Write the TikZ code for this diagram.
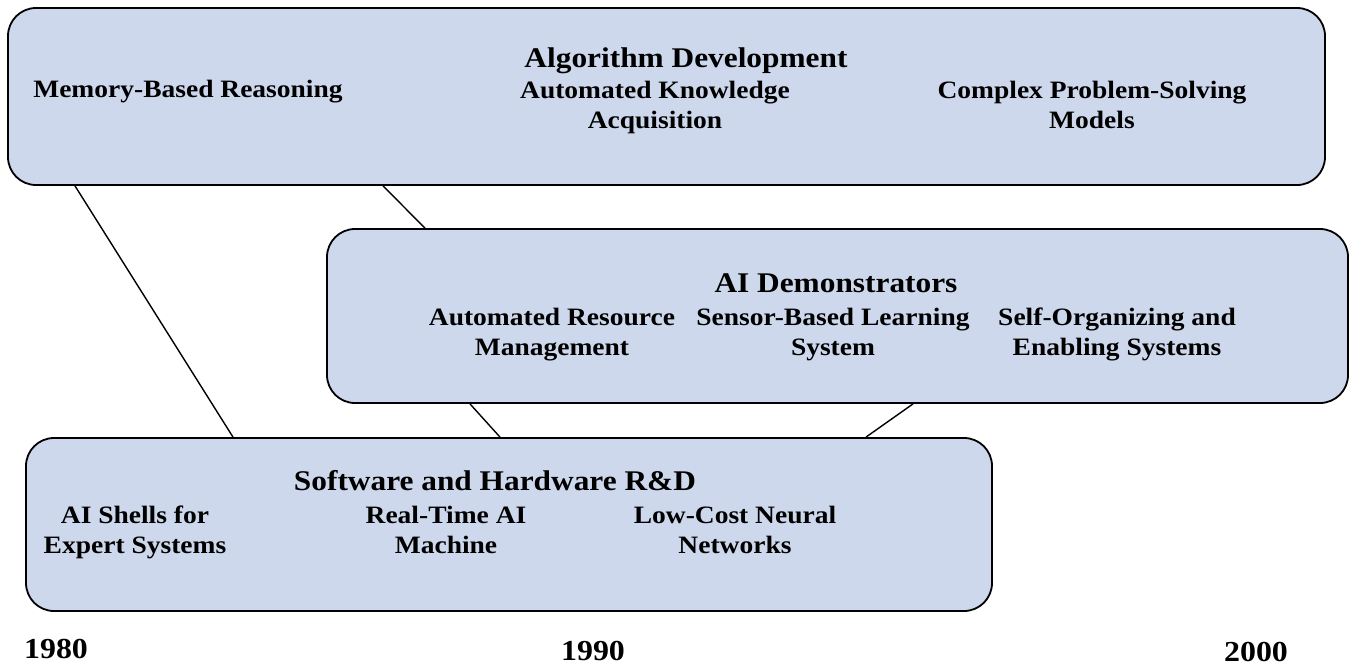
\documentclass[tikz,border=0pt]{standalone}
\usepackage{fontspec}
\setmainfont[FakeStretch=1.1]{Liberation Serif}
\usepackage{tikz}
\definecolor{panelblue}{RGB}{206,216,236}

\begin{document}
\begin{tikzpicture}[x=1pt, y=-1pt,
  panel/.style={draw=black, line width=1.8pt, fill=panelblue, rounded corners=28pt, inner sep=0pt},
  head/.style={font=\bfseries\fontsize{28.5}{30}\selectfont, anchor=base, inner sep=0pt},
  item/.style={font=\bfseries\fontsize{25}{30}\selectfont, align=center, anchor=base, inner sep=0pt},
  year/.style={font=\bfseries\fontsize{29}{30}\selectfont, anchor=base, inner sep=0pt},
  link/.style={line width=1.4pt}]
\useasboundingbox (0,0) rectangle (1352,667);
\node[panel, minimum width=1317pt, minimum height=177pt] (alg) at (666.5,96.5) {};
\node[panel, minimum width=1021pt, minimum height=174pt] (demo) at (837.5,316) {};
\node[panel, minimum width=966pt, minimum height=173pt] (sw) at (509,524.5) {};
\draw[link] (alg.south -| 75,0) -- (sw.north -| 233,0);
\draw[link] (alg.south -| 383,0) -- (demo.north -| 425,0);
\draw[link] (demo.south -| 470,0) -- (sw.north -| 500,0);
\draw[link] (demo.south -| 913,0) -- (sw.north -| 866,0);
\node[head] (algT) at (686,67) {Algorithm Development};
\node[item] (mem) at (188,97) {Memory-Based Reasoning};
\node[item] (kna) at (655,128) {Automated Knowledge\\Acquisition};
\node[item] (cps) at (1092,128) {Complex Problem-Solving\\Models};
\node[head] (demoT) at (836,292) {AI Demonstrators};
\node[item] (arm) at (552,355) {Automated Resource\\Management};
\node[item] (sbl) at (833,355) {Sensor-Based Learning\\System};
\node[item] (soe) at (1117,355) {Self-Organizing and\\Enabling Systems};
\node[head] (swT) at (495,490) {Software and Hardware R\&D};
\node[item] (ais) at (135,553) {AI Shells for\\Expert Systems};
\node[item] (rtm) at (446,553) {Real-Time AI\\Machine};
\node[item] (lcn) at (735,553) {Low-Cost Neural\\Networks};
\node[year] (y80) at (56,658) {1980};
\node[year] (y90) at (593,660) {1990};
\node[year] (y00) at (1256,661) {2000};
\end{tikzpicture}
\end{document}
